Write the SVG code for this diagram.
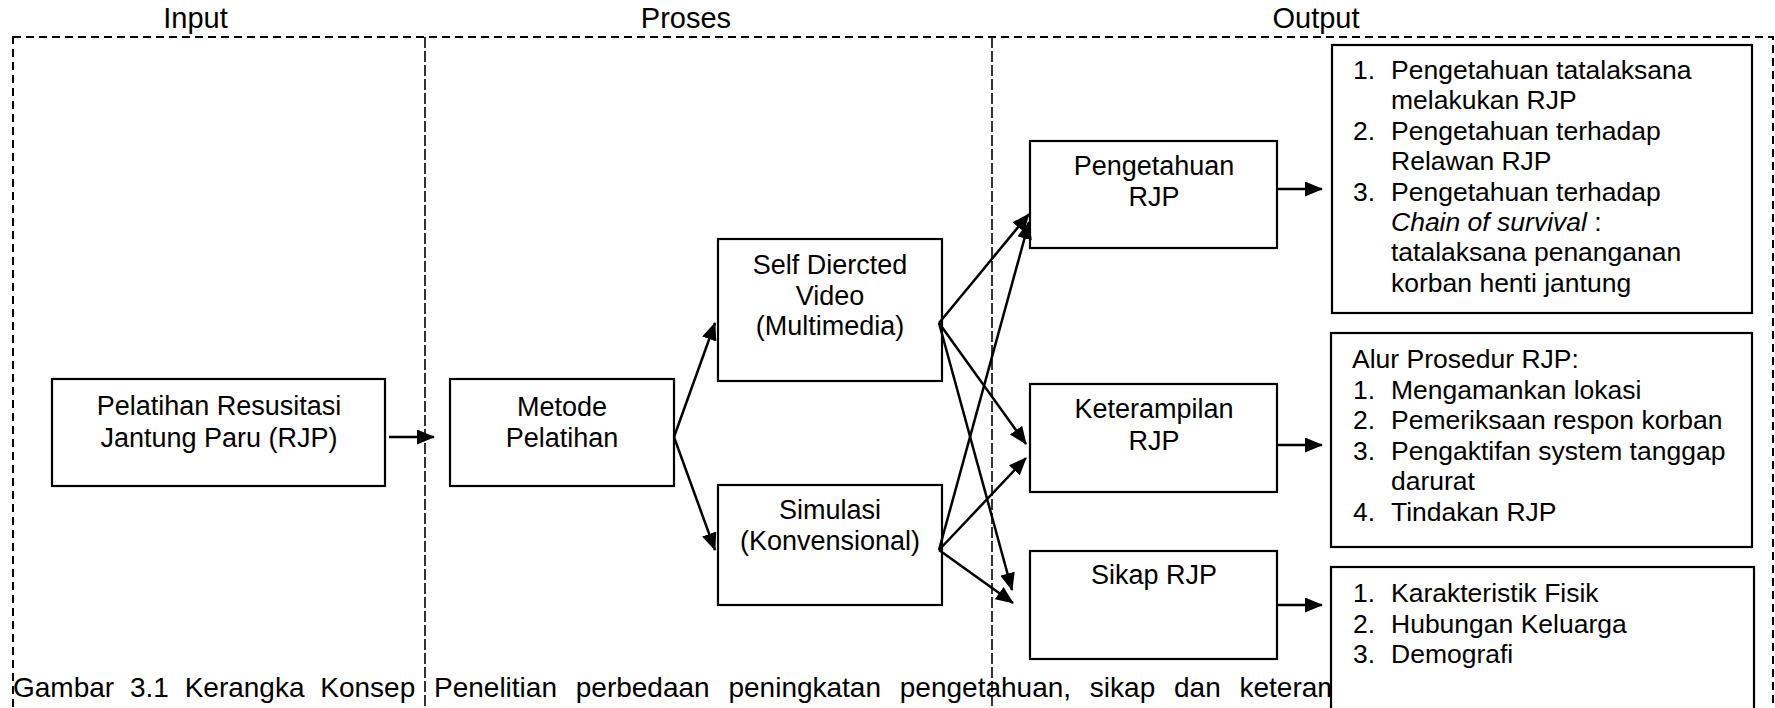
<svg xmlns="http://www.w3.org/2000/svg" width="1775" height="708" viewBox="0 0 1775 708">
<style>
text{font-family:"Liberation Sans",Arial,sans-serif;fill:#000}
.hd{font-size:29px}
.cap{font-size:28px;word-spacing:8px}
.bx{fill:#fff;stroke:#000;stroke-width:2.2}
.t{font-size:27px;text-anchor:middle}
.l{font-size:26.5px}
.c{fill:none;stroke:#000;stroke-width:2.5}
.frame{fill:none;stroke:#000;stroke-width:2;stroke-dasharray:8 5}
.div{fill:none;stroke:#000;stroke-width:1.6;stroke-dasharray:11 3}
</style>
<defs>
<marker id="ah" markerWidth="18" markerHeight="15" refX="17" refY="7.5" orient="auto" markerUnits="userSpaceOnUse">
<path d="M0,0 L18,7.5 L0,15 z" fill="#000"/>
</marker>
</defs>
<rect width="1775" height="708" fill="#fff"/>
<g id="frame">
<rect class="frame" x="13" y="37" width="1760" height="720"/>
<line class="div" x1="425" y1="37" x2="425" y2="708"/>
<line class="div" x1="992" y1="37" x2="992" y2="708"/>
<text class="hd" x="195.5" y="28" text-anchor="middle">Input</text>
<text class="hd" x="686" y="28" text-anchor="middle">Proses</text>
<text class="hd" x="1316" y="28" text-anchor="middle">Output</text>
</g>
<g id="caption">
<text class="cap" x="13" y="697">Gambar 3.1 Kerangka Konsep</text>
<text class="cap" x="434" y="697" style="word-spacing:11px">Penelitian perbedaan peningkatan pengetahuan, sikap dan keterampilan</text>
</g>
<g id="n-pelatihan">
<rect class="bx" x="52" y="379" width="333" height="107"/>
<text class="t" x="219" y="415">Pelatihan Resusitasi</text>
<text class="t" x="219" y="447">Jantung Paru (RJP)</text>
</g>
<g id="n-metode">
<rect class="bx" x="450" y="379" width="224" height="107"/>
<text class="t" x="562" y="416">Metode</text>
<text class="t" x="562" y="447">Pelatihan</text>
</g>
<g id="n-self">
<rect class="bx" x="718" y="239" width="224" height="142"/>
<text class="t" x="830" y="274">Self Diercted</text>
<text class="t" x="830" y="304.5">Video</text>
<text class="t" x="830" y="335">(Multimedia)</text>
</g>
<g id="n-simulasi">
<rect class="bx" x="718" y="485" width="224" height="120"/>
<text class="t" x="830" y="519">Simulasi</text>
<text class="t" x="830" y="550">(Konvensional)</text>
</g>
<g id="n-pengetahuan">
<rect class="bx" x="1030" y="141" width="247" height="107"/>
<text class="t" x="1154" y="175">Pengetahuan</text>
<text class="t" x="1154" y="206">RJP</text>
</g>
<g id="n-keterampilan">
<rect class="bx" x="1030" y="384" width="247" height="108"/>
<text class="t" x="1154" y="418">Keterampilan</text>
<text class="t" x="1154" y="450">RJP</text>
</g>
<g id="n-sikap">
<rect class="bx" x="1030" y="551" width="247" height="108"/>
<text class="t" x="1154" y="584">Sikap RJP</text>
</g>
<g id="n-list1">
<rect class="bx" x="1332" y="45" width="420" height="268"/>
<text class="l" x="1353" y="79">1.</text>
<text class="l" x="1391" y="79">Pengetahuan tatalaksana</text>
<text class="l" x="1391" y="109.4">melakukan RJP</text>
<text class="l" x="1353" y="139.8">2.</text>
<text class="l" x="1391" y="139.8">Pengetahuan terhadap</text>
<text class="l" x="1391" y="170.2">Relawan RJP</text>
<text class="l" x="1353" y="200.6">3.</text>
<text class="l" x="1391" y="200.6">Pengetahuan terhadap</text>
<text class="l" x="1391" y="231"><tspan font-style="italic">Chain of survival</tspan> :</text>
<text class="l" x="1391" y="261.4">tatalaksana penanganan</text>
<text class="l" x="1391" y="291.8">korban henti jantung</text>
</g>
<g id="n-list2">
<rect class="bx" x="1331" y="333" width="421" height="214"/>
<text class="l" x="1352" y="368">Alur Prosedur RJP:</text>
<text class="l" x="1353" y="398.6">1.</text>
<text class="l" x="1391" y="398.6">Mengamankan lokasi</text>
<text class="l" x="1353" y="429.2">2.</text>
<text class="l" x="1391" y="429.2">Pemeriksaan respon korban</text>
<text class="l" x="1353" y="459.8">3.</text>
<text class="l" x="1391" y="459.8">Pengaktifan system tanggap</text>
<text class="l" x="1391" y="490.4">darurat</text>
<text class="l" x="1353" y="521">4.</text>
<text class="l" x="1391" y="521">Tindakan RJP</text>
</g>
<g id="n-list3">
<rect class="bx" x="1331" y="567" width="423" height="160"/>
<text class="l" x="1353" y="602">1.</text>
<text class="l" x="1391" y="602">Karakteristik Fisik</text>
<text class="l" x="1353" y="632.5">2.</text>
<text class="l" x="1391" y="632.5">Hubungan Keluarga</text>
<text class="l" x="1353" y="663">3.</text>
<text class="l" x="1391" y="663">Demografi</text>
</g>
<g id="connectors">
<line class="c" x1="389" y1="437" x2="434" y2="437" marker-end="url(#ah)"/>
<line class="c" x1="674" y1="437" x2="715" y2="323" marker-end="url(#ah)"/>
<line class="c" x1="674" y1="437" x2="715" y2="550" marker-end="url(#ah)"/>
<line class="c" x1="939" y1="323" x2="1029" y2="214" marker-end="url(#ah)"/>
<line class="c" x1="939" y1="323" x2="1026" y2="444" marker-end="url(#ah)"/>
<line class="c" x1="939" y1="323" x2="1012" y2="590" marker-end="url(#ah)"/>
<line class="c" x1="939" y1="550" x2="1029" y2="222" marker-end="url(#ah)"/>
<line class="c" x1="939" y1="550" x2="1026" y2="458" marker-end="url(#ah)"/>
<line class="c" x1="939" y1="550" x2="1013" y2="603" marker-end="url(#ah)"/>
<line class="c" x1="1277" y1="189" x2="1322" y2="189" marker-end="url(#ah)"/>
<line class="c" x1="1277" y1="445" x2="1322" y2="445" marker-end="url(#ah)"/>
<line class="c" x1="1277" y1="605" x2="1322" y2="605" marker-end="url(#ah)"/>
</g>
</svg>
